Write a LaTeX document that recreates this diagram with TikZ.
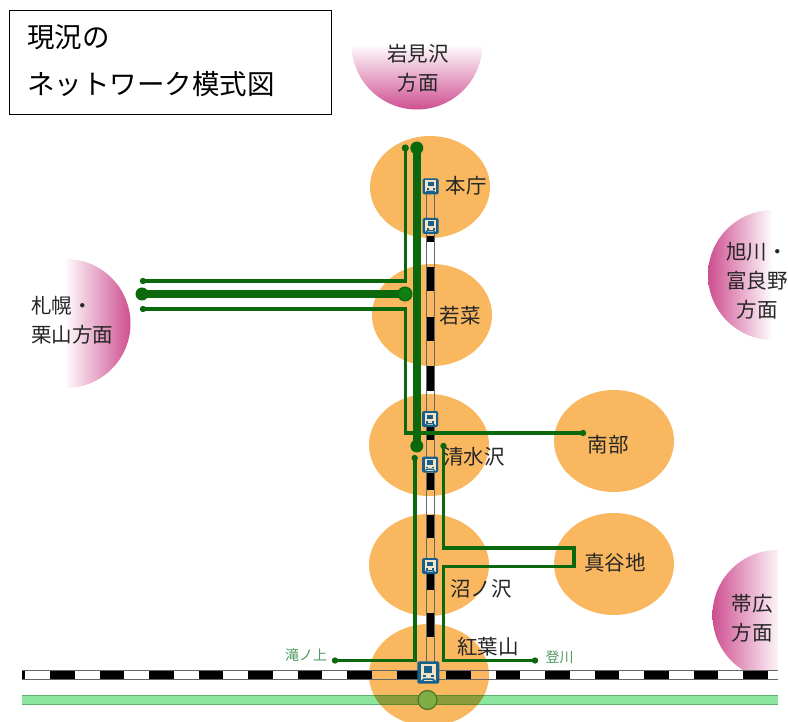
\documentclass[tikz,border=0pt]{standalone}
\usepackage{fontspec}
\setmainfont{Noto Sans CJK JP}
\usetikzlibrary{shapes.geometric}
\definecolor{orangeblob}{HTML}{F9B860}
\definecolor{linegreen}{HTML}{0C680C}
\definecolor{pinkend}{HTML}{CE4E90}
\definecolor{trainblue}{HTML}{17608C}
\definecolor{traincream}{HTML}{F3E3C4}
\definecolor{bandgreen}{HTML}{8DE6A0}
\definecolor{bandedge}{HTML}{5DB070}
\definecolor{bandolive}{HTML}{8C9C3C}
\definecolor{bandoliveedge}{HTML}{5E8A2C}
\definecolor{stationgreen}{HTML}{7FAE44}
\definecolor{minigreen}{HTML}{4F9A5F}
\definecolor{junctionfill}{HTML}{108010}
\tikzset{
  x=1pt,y=-1pt,
  blob/.style={fill=orangeblob,draw=none,ellipse,minimum width=120pt,minimum height=102pt,inner sep=0pt},
  lab/.style={font=\fontsize{20.5}{29}\selectfont,text=black!85,inner sep=0pt,align=center},
  mini/.style={font=\fontsize{14}{16}\selectfont,text=minigreen,inner sep=0pt},
  thinl/.style={draw=linegreen,line width=3.6pt},
  thickl/.style={draw=linegreen,line width=8pt},
  rail/.style={draw=black!60,line width=1pt},
  titletext/.style={font=\fontsize{27.5}{30}\selectfont,anchor=west,inner sep=0pt},
}
\newcommand{\trainmark}[3]{%
  \begin{scope}[shift={(#1,#2)},scale=#3]
  \fill[trainblue,rounded corners=1.5pt] (-8,-8) rectangle (8,8);
  \fill[traincream] (-5.5,-6) rectangle (5.5,6);
  \fill[trainblue] (-3,-4.5) rectangle (3,0);
  \fill[trainblue] (-4,2) rectangle (-2,3.6);
  \fill[trainblue] (2,2) rectangle (4,3.6);
  \fill[trainblue] (-5.5,6.2) -- (-3.5,4.2) -- (3.5,4.2) -- (5.5,6.2) -- (3.5,6.2) -- (3,5.4) -- (-3,5.4) -- (-3.5,6.2) -- cycle;
  \end{scope}
}
\begin{document}
\begin{tikzpicture}
\useasboundingbox (0,0) rectangle (788,722);
\fill[white] (0,0) rectangle (788,722);
% gradient half-discs
\begin{scope}
 \clip (64,259) rectangle (135,388);
 \clip (66,323.5) circle[radius=64.5];
 \shade[left color=white,right color=pinkend] (64,259) rectangle (131,388);
\end{scope}
\begin{scope}
 \clip (350,44) rectangle (484,112);
 \clip (417,44) circle[radius=65.5];
 \shade[top color=white,bottom color=pinkend] (350,44) rectangle (484,110);
\end{scope}
\begin{scope}
 \clip (705,208) rectangle (773,342);
 \clip (773,275) circle[radius=65];
 \shade[left color=pinkend,right color=white] (708,208) rectangle (773,342);
\end{scope}
\begin{scope}
 \clip (705,548) rectangle (778,682);
 \clip (777.5,615) circle[radius=65];
 \shade[left color=pinkend,right color=white] (712,548) rectangle (782,682);
\end{scope}
% blobs
\node[blob] (honcho) at (430,187) {};
\node[blob] (wakana) at (432,315) {};
\node[blob] (shimizu) at (429,445) {};
\node[blob] (nanbu) at (614,441) {};
\node[blob] (numa) at (429,565) {};
\node[blob] (maya) at (614,564) {};
\node[blob] (momiji) at (429,675) {};
% main horizontal rail
\fill[white] (22,670.5) rectangle (778,679.5);
\begin{scope}
 \clip (429,675) ellipse[x radius=60,y radius=51];
 \fill[orangeblob] (22,670) rectangle (778,680);
\end{scope}
\draw[black,line width=8pt,dash pattern=on 24.5pt off 25pt,dash phase=21.5pt] (22,675) -- (778,675);
\draw[black!60,line width=1pt] (22,670.5) -- (778,670.5) (22,679.5) -- (778,679.5);
% band
\fill[bandgreen] (22,695) rectangle (778,705);
\draw[bandedge,line width=1.2pt] (22,695.5) -- (778,695.5) (22,704.5) -- (778,704.5);
\begin{scope}
 \clip (429,675) ellipse[x radius=60,y radius=51];
 \fill[bandolive] (22,695) rectangle (778,705);
 \draw[bandoliveedge,line width=1.2pt] (22,695.5) -- (778,695.5) (22,704.5) -- (778,704.5);
\end{scope}
\fill[stationgreen,draw=bandoliveedge!85!black,line width=1.2pt] (427.5,700) circle[radius=9.5];
% vertical rail
\draw[rail] (426,187) -- (426,665) (434.3,187) -- (434.3,665);
\fill[black] (426.5,236) rectangle (434,242);
\fill[black] (426.5,267) rectangle (434,291);
\fill[black] (426.5,317) rectangle (434,341);
\fill[black] (426.5,366) rectangle (434,391);
\fill[black] (426.5,427) rectangle (434,440);
\fill[black] (426.5,473) rectangle (434,490);
\fill[black] (426.5,515) rectangle (434,538);
\fill[black] (426.5,573) rectangle (434,590);
\fill[black] (426.5,613) rectangle (434,637);
% connectors
\coordinate (kitaend) at (405.3,148);
\coordinate (sapA) at (143,281);
\coordinate (sapB) at (143,309);
\coordinate (sapM) at (142,294);
\coordinate (honT) at (416.8,148);
\coordinate (honB) at (416.8,446);
\coordinate (nanEnd) at (583,433);
\coordinate (lowL) at (414.7,458);
\coordinate (lowR) at (443.5,446);
\coordinate (takiE) at (335,660.5);
\coordinate (nobE) at (535,660.5);
\coordinate (wkc) at (405,294);
\draw[thinl] (sapA) -- (405.3,281) -- (kitaend);
\draw[thinl] (sapB) -- (405.3,309) -- (405.3,433) -- (nanEnd);
\draw[thickl] (sapM) -- (wkc);
\draw[thickl] (honT) -- (honB);
\draw[thinl] (lowL) -- (414.7,660.5) -- (takiE);
\draw[thinl] (lowR) -- (443.5,548) -- (574,548) -- (574,566.5) -- (443.5,566.5) -- (443.5,660.5) -- (nobE);
\fill[linegreen] (kitaend) circle[radius=3.6] (sapA) circle[radius=3.2] (sapB) circle[radius=3.2]
  (sapM) circle[radius=6.5] (honT) circle[radius=6.5] (honB) circle[radius=6.5] (nanEnd) circle[radius=3.2]
  (lowL) circle[radius=3.2] (lowR) circle[radius=3.2] (takiE) circle[radius=3.2] (nobE) circle[radius=3.2];
\fill[junctionfill,draw=linegreen,line width=1.4pt] (wkc) circle[radius=6.8];
% trains
\trainmark{430.5}{186.5}{1}
\trainmark{430.5}{226}{1}
\trainmark{430}{419}{1}
\trainmark{430}{464.5}{1}
\trainmark{430}{566}{1}
\trainmark{428.3}{672.5}{1.38}
% labels
\node[lab] (lh) at (466,186) {本庁};
\node[lab] (lw) at (460,316) {若菜};
\node[lab] (ls) at (474,457) {清水沢};
\node[lab] (ln) at (608,445) {南部};
\node[lab] (lnu) at (481,589) {沼ノ沢};
\node[lab] (lma) at (615,563) {真谷地};
\node[lab] (lmo) at (488,647) {紅葉山};
\node[lab] (lt) at (418,68.5) {岩見沢\\方面};
\node[lab,anchor=west] (lsa1) at (31,306) {札幌・};
\node[lab,anchor=west] (lsa2) at (31,335) {栗山方面};
\node[lab] (lo) at (757,281) {旭川・\\富良野\\方面};
\node[lab] (lob) at (752,618) {帯広\\方面};
\node[mini] (lta) at (306,655) {滝ノ上};
\node[mini] (lno) at (559.5,657) {登川};
% title
\node[draw=black,line width=1.8pt,minimum width=322pt,minimum height=104pt,inner sep=0pt] (tbox) at (170.5,62.5) {};
\node[titletext] (t1) at (27,37) {現況の};
\node[titletext] (t2) at (27,84) {ネットワーク模式図};
\end{tikzpicture}
\end{document}
